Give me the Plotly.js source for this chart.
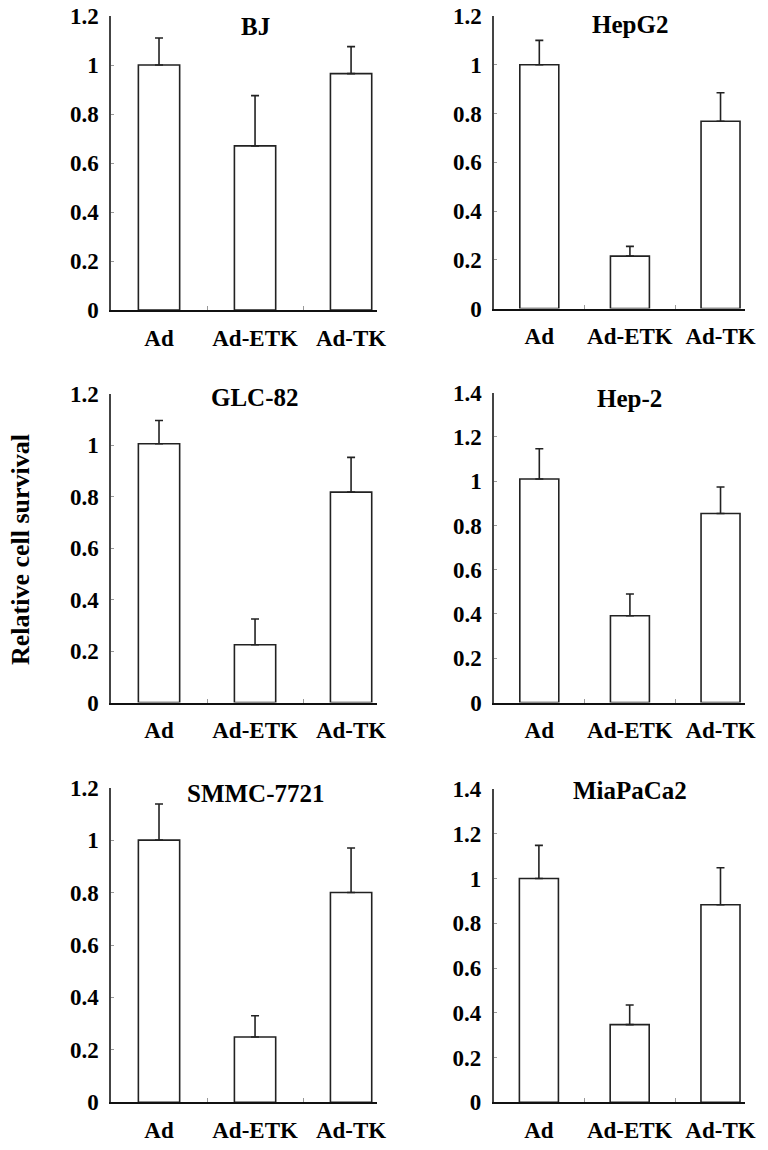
<!DOCTYPE html>
<html>
<head>
<meta charset="utf-8">
<script src="https://cdn.plot.ly/plotly-3.0.1.min.js"></script>
<style>
  html, body { margin: 0; padding: 0; background: #fff; }
  #chart { width: 768px; height: 1150px; }
</style>
</head>
<body>
<div id="chart"></div>
<script>
// ---- data ----
const categories = ['Ad', 'Ad-ETK', 'Ad-TK'];
const panelTitles = ['BJ', 'HepG2', 'GLC-82', 'Hep-2', 'SMMC-7721', 'MiaPaCa2'];
const yMax = [1.2, 1.2, 1.2, 1.4, 1.2, 1.4];

const bjMean    = [1.00, 0.67, 0.965];
const bjErr     = [0.11, 0.205, 0.11];
const hepg2Mean = [1.00, 0.215, 0.768];
const hepg2Err  = [0.10, 0.04, 0.117];
const glc82Mean = [1.005, 0.224, 0.817];
const glc82Err  = [0.09, 0.10, 0.135];
const hep2Mean  = [1.01, 0.392, 0.854];
const hep2Err   = [0.137, 0.098, 0.12];
const smmcMean  = [1.00, 0.249, 0.80];
const smmcErr   = [0.138, 0.081, 0.17];
const miaMean   = [1.00, 0.347, 0.883];
const miaErr    = [0.148, 0.088, 0.165];
const yAxisLabel = 'Relative cell survival';

const means = [bjMean, hepg2Mean, glc82Mean, hep2Mean, smmcMean, miaMean];
const errs  = [bjErr, hepg2Err, glc82Err, hep2Err, smmcErr, miaErr];

// ---- layout geometry (pixels) ----
const W = 768, H = 1150;
const boxes = [
  {x0: 111, x1: 377, yb: 310,   yt: 16},
  {x0: 494, x1: 745, yb: 308.5, yt: 16},
  {x0: 111, x1: 377, yb: 702.5, yt: 393.5},
  {x0: 494, x1: 745, yb: 702.5, yt: 392.7},
  {x0: 111, x1: 377, yb: 1102.3, yt: 787.7},
  {x0: 493.5, x1: 745, yb: 1102.3, yt: 789}
];
const titleY = [27, 25, 397, 398, 793, 790];

const FONT = 'Liberation Serif, Times New Roman, serif';
const data = [];
const layout = {
  width: W, height: H,
  margin: {l: 0, r: 0, t: 0, b: 0},
  paper_bgcolor: '#fff', plot_bgcolor: '#fff',
  showlegend: false,
  bargap: 0.57,
  annotations: []
};

means.forEach((m, i) => {
  const n = i === 0 ? '' : String(i + 1);
  data.push({
    type: 'bar',
    x: categories,
    y: m,
    xaxis: 'x' + n,
    yaxis: 'y' + n,
    marker: {color: '#ffffff', line: {color: '#222', width: 1.6}},
    error_y: {
      type: 'data', symmetric: false,
      array: errs[i],
      arrayminus: errs[i].map(() => 0),
      color: '#222', thickness: 1.6, width: 4
    },
    hoverinfo: 'x+y'
  });
  const b = boxes[i];
  layout['xaxis' + n] = {
    domain: [b.x0 / W, b.x1 / W],
    anchor: 'y' + n,
    type: 'category',
    range: [-0.5, 2.27],
    showline: true, linecolor: '#111', linewidth: 2,
    ticks: 'inside', tickson: 'boundaries', ticklen: 4, tickcolor: '#999', tickwidth: 1,
    showgrid: false, zeroline: false,
    tickangle: 0,
    automargin: false,
    tickfont: {family: FONT, size: 23, color: '#000', weight: 'bold'},
    ticklabelstandoff: 6,
    fixedrange: true
  };
  layout['yaxis' + n] = {
    domain: [1 - b.yb / H, 1 - b.yt / H],
    anchor: 'x' + n,
    range: [0, yMax[i]],
    dtick: 0.2, tick0: 0,
    showline: true, linecolor: '#444', linewidth: 1.6,
    ticks: 'inside', ticklen: 3, tickcolor: '#999', tickwidth: 1,
    showgrid: false, zeroline: false,
    automargin: false,
    tickfont: {family: FONT, size: 23, color: '#000', weight: 'bold'},
    ticklabelstandoff: 6,
    fixedrange: true
  };
  layout.annotations.push({
    text: panelTitles[i],
    xref: 'x' + n, x: 1,
    yref: 'paper', y: 1 - titleY[i] / H,
    xanchor: 'center', yanchor: 'middle',
    showarrow: false,
    font: {family: FONT, size: 25, color: '#000', weight: 'bold'}
  });
});

layout.annotations.push({
  text: yAxisLabel,
  xref: 'paper', x: 20 / W,
  yref: 'paper', y: 1 - 550 / H,
  xanchor: 'center', yanchor: 'middle',
  textangle: -90,
  showarrow: false,
  font: {family: FONT, size: 26, color: '#000', weight: 'bold'}
});

Plotly.newPlot('chart', data, layout, {staticPlot: true, displayModeBar: false});
</script>
</body>
</html>
